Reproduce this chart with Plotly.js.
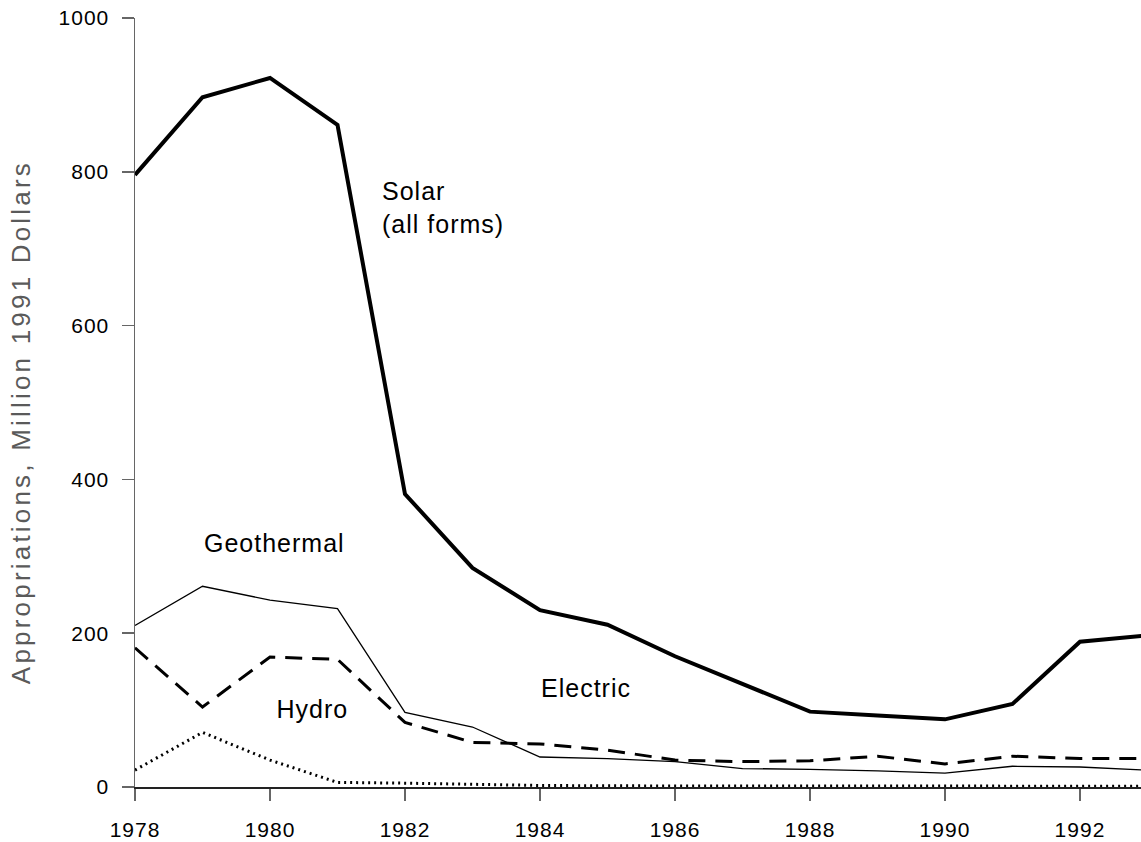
<!DOCTYPE html>
<html>
<head>
<meta charset="utf-8">
<script src="https://cdn.plot.ly/plotly-3.0.1.min.js"></script>
<style>
  html, body { margin: 0; padding: 0; background: #fff; }
  #chart { width: 1141px; height: 842px; }
  #chart text { letter-spacing: 1px; }
  #chart g.annotation[data-index="0"] text { letter-spacing: 3.2px; }
</style>
</head>
<body>
<div id="chart"></div>
<script>
const years = [1978, 1979, 1980, 1981, 1982, 1983, 1984, 1985, 1986, 1987, 1988, 1989, 1990, 1991, 1992, 1993];
const solar      = [796, 897, 922, 861, 381, 285, 230, 211, 170, 134, 98, 93, 88, 108, 189, 197];
const geothermal = [210, 261, 243, 232, 97, 78, 39, 37, 33, 24, 23, 21, 18, 27, 26, 22];
const electric   = [181, 104, 169, 166, 84, 58, 56, 48, 35, 33, 34, 40, 30, 40, 37, 37];
const hydro      = [22, 71, 35, 6, 5, 3.5, 2, 1.5, 1.5, 1.2, 1.2, 1, 1, 1, 1, 1];
const xTicks = [1978, 1980, 1982, 1984, 1986, 1988, 1990, 1992];
const yTicks = [0, 200, 400, 600, 800, 1000];
const yTitle = 'Appropriations, Million 1991 Dollars';

const font = 'Liberation Sans, Arial, Helvetica, sans-serif';

const traces = [
  { x: years, y: hydro, name: 'Hydro', mode: 'lines',
    line: { color: '#000', width: 3, dash: '2px,4px' } },
  { x: years, y: geothermal, name: 'Geothermal', mode: 'lines',
    line: { color: '#000', width: 1.3 } },
  { x: years, y: electric, name: 'Electric', mode: 'lines',
    line: { color: '#000', width: 3, dash: '17px,10px' } },
  { x: years, y: solar, name: 'Solar (all forms)', mode: 'lines',
    line: { color: '#000', width: 4 } }
];

const layout = {
  width: 1141, height: 842,
  margin: { l: 135, r: 0, t: 18, b: 55 },
  paper_bgcolor: '#fff', plot_bgcolor: '#fff',
  showlegend: false,
  font: { family: font, color: '#000', size: 21 },
  xaxis: {
    range: [1978, 1992.904], tickvals: xTicks, ticktext: xTicks.map(String),
    showgrid: false, zeroline: false,
    showline: true, linecolor: '#222', linewidth: 1.5,
    ticks: 'outside', ticklen: 12, tickwidth: 1.5, tickcolor: '#666',
    tickfont: { family: font, size: 21, color: '#000' },
    ticklabelstandoff: 11
  },
  yaxis: {
    range: [0, 1000], tickvals: yTicks,
    showgrid: false, zeroline: false,
    showline: true, linecolor: '#666', linewidth: 1.5,
    ticks: 'outside', ticklen: 12, tickwidth: 1.5, tickcolor: '#666',
    tickfont: { family: font, size: 21, color: '#000' },
    ticklabelstandoff: 8
  },
  annotations: [
    { text: yTitle, xref: 'paper', yref: 'paper', x: -0.1135, y: 0.475,
      xanchor: 'center', yanchor: 'middle', textangle: -90, showarrow: false,
      font: { family: font, size: 26, color: '#5a5a5a' } },
    { text: 'Solar<br>(all forms)', x: 1981.63, y: 754, xanchor: 'left', yanchor: 'middle',
      align: 'left', showarrow: false, font: { family: font, size: 25, color: '#000' } },
    { text: 'Geothermal', x: 1979.06, y: 317, xanchor: 'left', yanchor: 'middle',
      showarrow: false, font: { family: font, size: 25, color: '#000' } },
    { text: 'Hydro', x: 1980.1, y: 102, xanchor: 'left', yanchor: 'middle',
      showarrow: false, font: { family: font, size: 25, color: '#000' } },
    { text: 'Electric', x: 1984.04, y: 129, xanchor: 'left', yanchor: 'middle',
      showarrow: false, font: { family: font, size: 25, color: '#000' } }
  ]
};

Plotly.newPlot('chart', traces, layout, { staticPlot: true, displayModeBar: false });
</script>
</body>
</html>
